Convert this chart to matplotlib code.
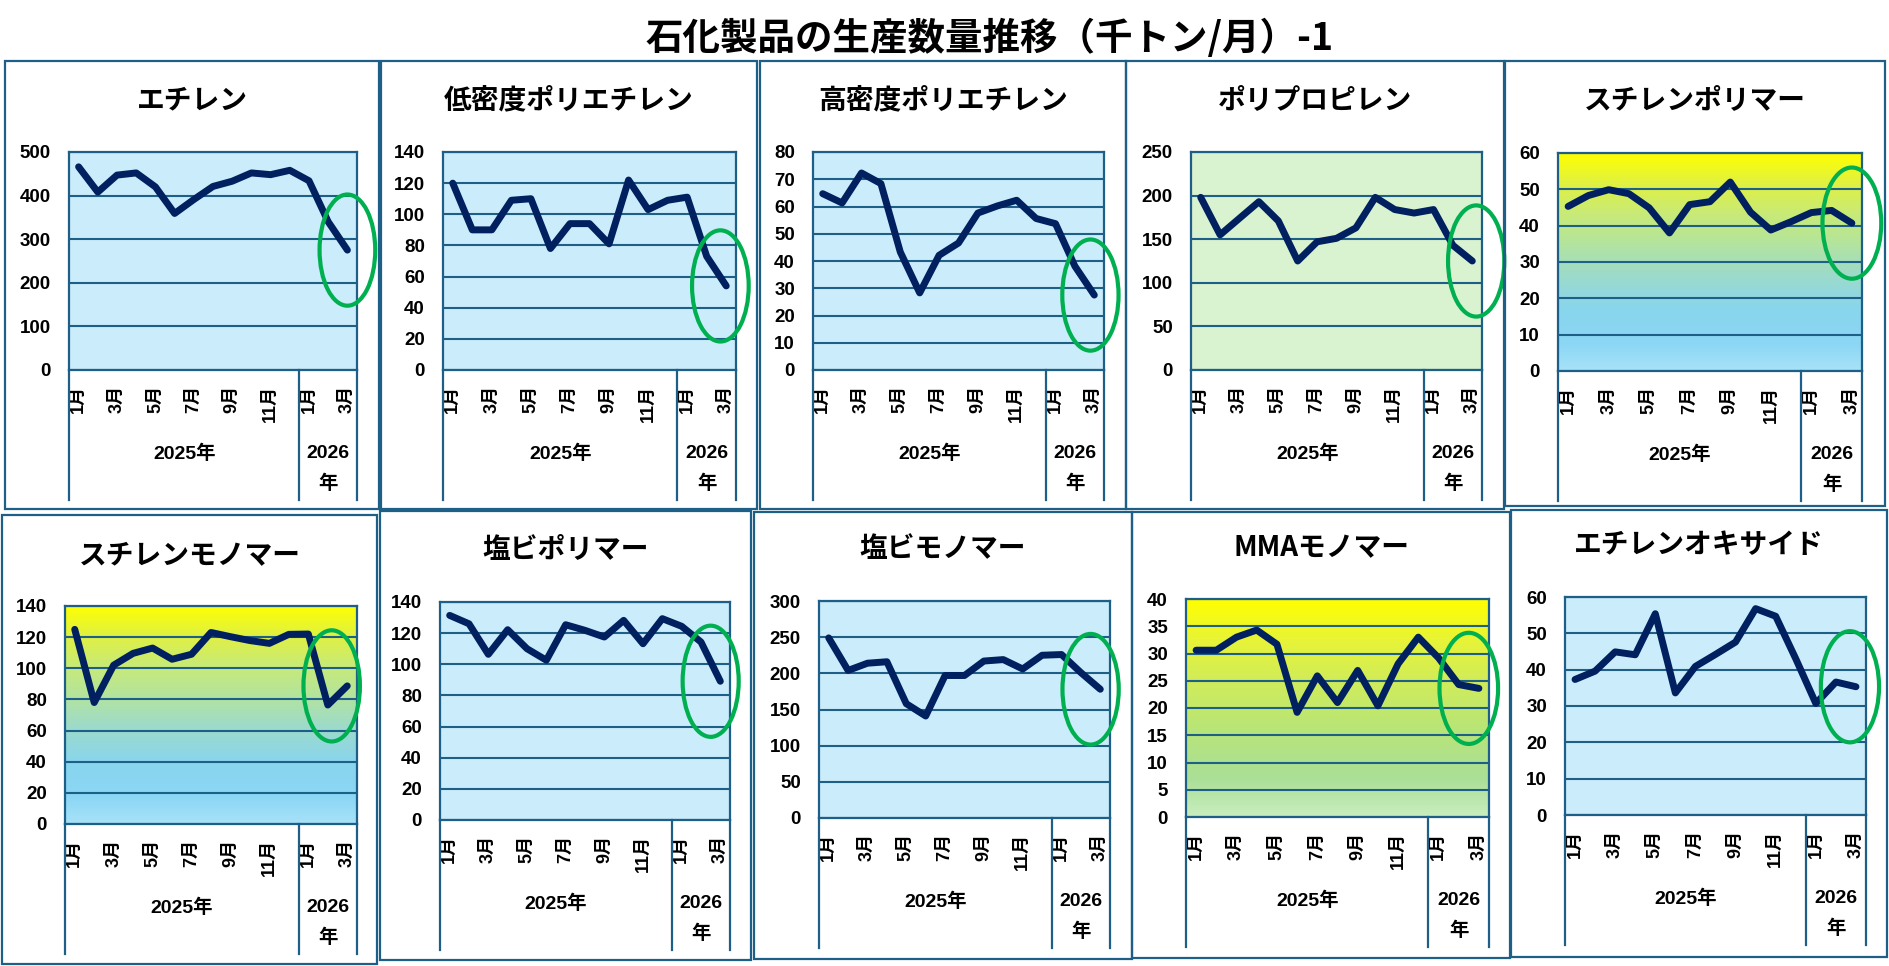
import matplotlib
matplotlib.use("Agg")
import matplotlib.pyplot as plt
import numpy as np
from matplotlib.colors import LinearSegmentedColormap
from matplotlib.patches import Rectangle, Ellipse
from matplotlib.transforms import blended_transform_factory

plt.rcParams["font.family"] = ["Liberation Sans", "Noto Sans CJK JP"]
plt.rcParams["font.weight"] = "bold"

# --- data ---------------------------------------------------------------
month_labels = ["1月", "2月", "3月", "4月", "5月", "6月", "7月", "8月", "9月",
                "10月", "11月", "12月", "1月", "2月", "3月"]
year_labels = ["2025年", "2026\n年"]
year_spans = [(0, 11), (12, 14)]

titles = ["エチレン", "低密度ポリエチレン", "高密度ポリエチレン", "ポリプロピレン",
          "スチレンポリマー", "スチレンモノマー", "塩ビポリマー", "塩ビモノマー",
          "MMAモノマー", "エチレンオキサイド"]

ethylene = [466, 408, 447, 452, 420, 359, 391, 421, 433, 452, 448, 458, 434, 340, 275]
ldpe = [120, 90, 90, 109, 110, 78, 94, 94, 81, 122, 103, 109, 111, 73, 54]
hdpe = [64.7, 61.3, 72.3, 68.4, 43.3, 28.3, 42.1, 46.6, 57.6, 60.2, 62.3, 55.6, 53.7, 38.1, 27.5]
pp = [198, 155, 174, 193, 171, 125, 147, 151, 163, 198, 184, 180, 184, 143, 125]
ps = [45.3, 48.3, 49.9, 48.8, 44.9, 38.0, 45.8, 46.6, 52.0, 43.7, 38.8, 41.1, 43.6, 44.2, 40.7]
sm = [125, 78, 102, 109.6, 113, 105.8, 109, 123, 120.3, 117.8, 116, 121.8, 122, 76.4, 88.7]
pvc = [131.4, 126, 106.4, 122.2, 110, 102.6, 125.4, 121.8, 117.5, 128.2, 113.2, 129.3, 124.4, 114.3, 89.1]
vcm = [249, 204, 214, 216, 158, 141, 197, 197, 217, 219, 206, 225, 226, 201, 178]
mma = [30.6, 30.6, 33.0, 34.3, 31.7, 19.2, 25.9, 21.0, 26.9, 20.4, 28.1, 33.0, 29.2, 24.3, 23.6]
eo = [37.3, 39.6, 44.9, 44.1, 55.4, 33.6, 40.9, 44.2, 47.6, 56.8, 54.7, 43.0, 30.7, 36.6, 35.3]

series = [ethylene, ldpe, hdpe, pp, ps, sm, pvc, vcm, mma, eo]
y_max = [500, 140, 80, 250, 60, 140, 140, 300, 40, 60]
y_step = [100, 20, 10, 50, 10, 20, 20, 50, 5, 10]
backgrounds = ["blue", "blue", "blue", "green", "grad_blue", "grad_blue",
               "blue", "blue", "grad_green", "blue"]

# --- layout (pixels in 1890x966 canvas) ---------------------------------
W, H = 1890, 966
panel_boxes = [(5, 61, 379, 509), (381, 61, 757, 509), (760, 61, 1126, 509),
               (1126, 61, 1504, 509), (1505, 61, 1885, 506),
               (2, 515, 377, 964), (380, 511, 751, 960), (754, 512, 1132, 959),
               (1132, 512, 1510, 958), (1511, 510, 1887, 957)]
axes_boxes = [(69, 152, 357, 370), (443, 152, 736, 370), (813, 152, 1104, 370),
              (1191, 152, 1482, 370), (1558, 153, 1862, 371),
              (65, 606, 357, 824), (440, 602, 730, 820), (819, 601, 1110, 818),
              (1186, 599, 1489, 817), (1565, 597, 1866, 815)]
title_y = [100, 100, 100, 100, 100, 555, 550, 549, 548, 545]
ellipse_x = [14.0, 13.7, 13.8, 14.2, 14.0, 13.2, 13.5, 13.5, 13.5, 13.7]

EDGE = "#1D5F86"
LINE = "#002060"
GREEN = "#00B050"

cmaps = {
    "grad_blue": LinearSegmentedColormap.from_list("gb", [
        (0.0, "#A8E2F8"), (0.12, "#8CD7F5"), (0.28, "#88D5EE"), (0.45, "#9EDBC8"),
        (0.60, "#B6E599"), (0.72, "#C8EA78"), (0.86, "#E0F142"), (1.0, "#FFFF00")]),
    "grad_green": LinearSegmentedColormap.from_list("gg", [
        (0.0, "#C9EEBF"), (0.18, "#AADF96"), (0.40, "#B8E578"), (0.62, "#D0EC5A"),
        (0.80, "#E6F33A"), (1.0, "#FFFF00")]),
}
solid = {"blue": "#CBECFA", "green": "#D9F2D0"}

fig = plt.figure(figsize=(W / 100, H / 100), dpi=100)
fig.patch.set_facecolor("white")

fig.text(990 / W, 1 - 38 / H, "石化製品の生産数量推移（千トン/月）-1",
         ha="center", va="center", fontsize=27, weight="bold",
         family=["Noto Sans CJK JP", "Liberation Sans"])

x = np.arange(len(month_labels))

for i in range(len(series)):
    px0, py0, px1, py1 = panel_boxes[i]
    fig.add_artist(Rectangle((px0 / W, 1 - py1 / H), (px1 - px0) / W, (py1 - py0) / H,
                             transform=fig.transFigure, fill=False, ec=EDGE, lw=1.6))
    fig.text((px0 + px1) / 2 / W, 1 - title_y[i] / H, titles[i], ha="center", va="center",
             fontsize=20, weight="bold", family=["Noto Sans CJK JP", "Liberation Sans"])

    l, t, r, b = axes_boxes[i]
    ax = fig.add_axes([l / W, 1 - b / H, (r - l) / W, (b - t) / H])
    bg = backgrounds[i]
    if bg in cmaps:
        grad = np.linspace(1, 0, 256).reshape(-1, 1)
        ax.imshow(grad, cmap=cmaps[bg], extent=(0, 1, 0, 1), transform=ax.transAxes,
                  aspect="auto", zorder=0)
    else:
        ax.set_facecolor(solid[bg])

    ax.plot(x, series[i], color=LINE, lw=5, solid_capstyle="round",
            solid_joinstyle="round", zorder=3)
    ax.set_xlim(-0.5, len(x) - 0.5)
    ax.set_ylim(0, y_max[i])
    ax.set_yticks(np.arange(0, y_max[i] + y_step[i] / 2, y_step[i]))
    ax.yaxis.grid(True, color=EDGE, lw=1.5, zorder=1)
    ax.set_axisbelow(True)
    ax.set_xticks(x[::2], month_labels[::2], rotation=90, va="top", ha="center")
    ax.tick_params(axis="x", length=0, pad=11, labelsize=13)
    ax.tick_params(axis="y", length=0, pad=13, labelsize=13.5)
    for sp in ax.spines.values():
        sp.set_color(EDGE)
        sp.set_linewidth(1.6)

    # category group separators and year labels
    trans = blended_transform_factory(ax.transData, ax.transAxes)
    depth = -130 / (b - t)
    for sx in [-0.5, 11.5, 14.5]:
        ax.plot([sx, sx], [0, depth], transform=trans, color=EDGE, lw=1.6, clip_on=False)
    for lab, (s0, s1) in zip(year_labels, year_spans):
        cx = (s0 + s1) / 2
        parts = lab.split("\n")
        for k, p in enumerate(parts):
            ax.annotate(p, xy=(cx, 0), xycoords=trans, xytext=(0, -60 - 21.6 * k),
                        textcoords="offset points", ha="center", va="center",
                        fontsize=14, weight="bold")

    # highlight of the latest months
    ax.add_patch(Ellipse((ellipse_x[i], series[i][-1]), 2.9, 0.51 * y_max[i],
                         fill=False, ec=GREEN, lw=3, zorder=5, clip_on=False))

fig.savefig("out.png", dpi=100)
